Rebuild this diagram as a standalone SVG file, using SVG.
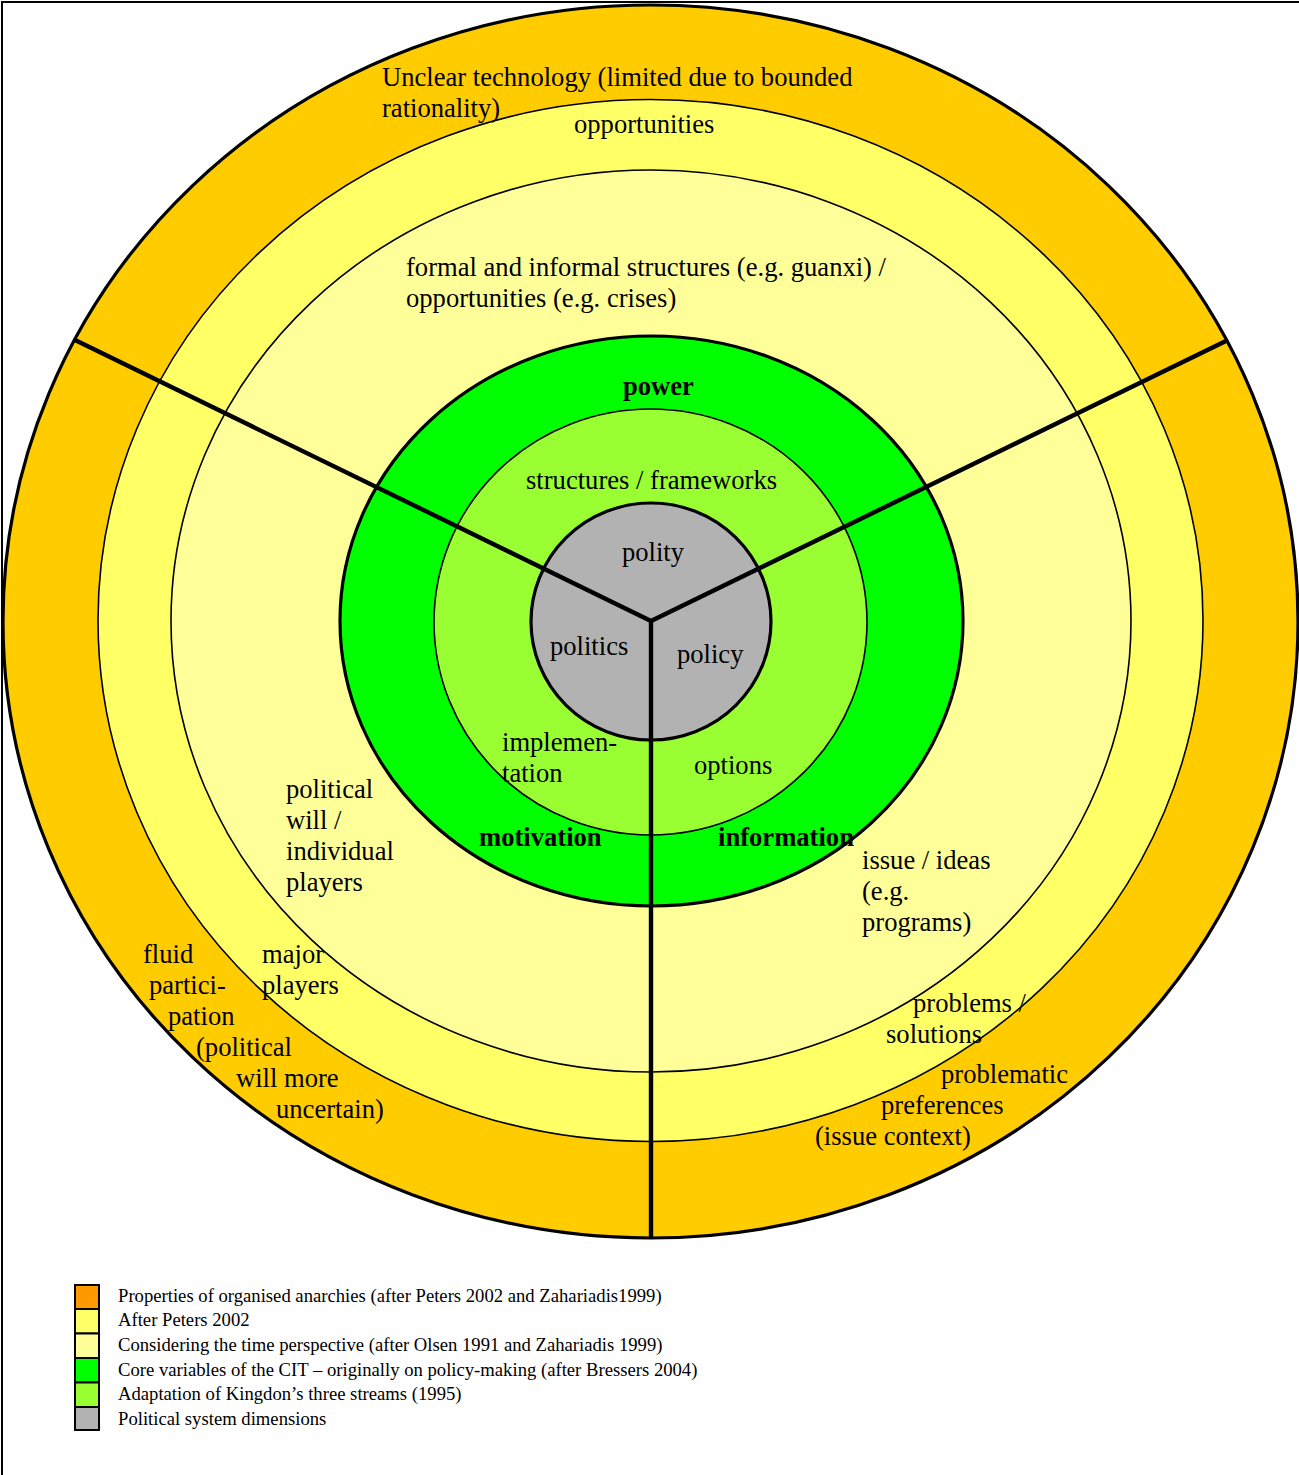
<svg xmlns="http://www.w3.org/2000/svg" width="1299" height="1475" viewBox="0 0 1299 1475">
  <style>
    .ring { stroke: #000; }
    .thick { stroke-width: 3.2; }
    .thin { stroke-width: 1.6; }
    .lbl { font-family: "Liberation Serif", "Times New Roman", serif; font-size: 26.6px; fill: #000; }
    .bold { font-weight: bold; }
    .leg { font-family: "Liberation Serif", "Times New Roman", serif; font-size: 18.67px; fill: #000; }
    .sw { stroke: #000; stroke-width: 2; }
    .divider { stroke: #000; stroke-width: 4.4; fill: none; stroke-linecap: butt; }
  </style>

  <rect x="0" y="0" width="1299" height="1475" fill="#fff"/>
  <!-- page frame (top and left edge) -->
  <path d="M2,1475 V2 H1299" fill="none" stroke="#000" stroke-width="2"/>

  <!-- concentric rings, outermost first -->
  <g id="ring-anarchies">
    <ellipse class="ring thick" cx="650.5" cy="621.5" rx="647.5" ry="616.5" fill="#FFCC00"/>
  </g>
  <g id="ring-peters">
    <ellipse class="ring thin" cx="650.5" cy="620.5" rx="552.5" ry="521" fill="#FFFF66"/>
  </g>
  <g id="ring-time">
    <ellipse class="ring thin" cx="651" cy="621" rx="480" ry="451" fill="#FFFF99"/>
  </g>
  <g id="ring-core">
    <ellipse class="ring thick" cx="651.5" cy="621" rx="311.5" ry="285" fill="#00FF00"/>
  </g>
  <g id="ring-streams">
    <ellipse class="ring thin" cx="650.5" cy="622" rx="216.5" ry="213" fill="#99FF33"/>
  </g>
  <g id="ring-system">
    <ellipse class="ring thick" cx="651" cy="621.5" rx="120" ry="118.5" fill="#B2B2B2"/>
  </g>

  <!-- sector dividers from the centre -->
  <g id="connectors">
    <line class="divider" x1="651" y1="621" x2="75" y2="340"/>
    <line class="divider" x1="651" y1="621" x2="1228" y2="340"/>
    <line class="divider" x1="651" y1="619" x2="651" y2="1239"/>
  </g>

  <!-- ring labels -->
  <g id="label-technology">
    <text class="lbl" x="382" y="86">Unclear technology (limited due to bounded</text>
    <text class="lbl" x="382" y="117">rationality)</text>
  </g>
  <g id="label-opportunities">
    <text class="lbl" x="574" y="133">opportunities</text>
  </g>
  <g id="label-structures-time">
    <text class="lbl" x="406" y="276">formal and informal structures (e.g. guanxi) /</text>
    <text class="lbl" x="406" y="307">opportunities (e.g. crises)</text>
  </g>
  <g id="label-power">
    <text class="lbl bold" x="623" y="395">power</text>
  </g>
  <g id="label-structures">
    <text class="lbl" x="526" y="489">structures / frameworks</text>
  </g>
  <g id="label-polity">
    <text class="lbl" x="622" y="561">polity</text>
  </g>
  <g id="label-politics">
    <text class="lbl" x="550" y="655">politics</text>
  </g>
  <g id="label-policy">
    <text class="lbl" x="677" y="663">policy</text>
  </g>
  <g id="label-implementation">
    <text class="lbl" x="502" y="751">implemen-</text>
    <text class="lbl" x="502" y="782">tation</text>
  </g>
  <g id="label-options">
    <text class="lbl" x="694" y="774">options</text>
  </g>
  <g id="label-motivation">
    <text class="lbl bold" x="479" y="846">motivation</text>
  </g>
  <g id="label-information">
    <text class="lbl bold" x="718" y="846">information</text>
  </g>
  <g id="label-political-will">
    <text class="lbl" x="286" y="798">political</text>
    <text class="lbl" x="286" y="829">will /</text>
    <text class="lbl" x="286" y="860">individual</text>
    <text class="lbl" x="286" y="891">players</text>
  </g>
  <g id="label-issue">
    <text class="lbl" x="862" y="869">issue / ideas</text>
    <text class="lbl" x="862" y="900">(e.g.</text>
    <text class="lbl" x="862" y="931">programs)</text>
  </g>
  <g id="label-fluid">
    <text class="lbl" x="143" y="963">fluid</text>
    <text class="lbl" x="149" y="994">partici-</text>
    <text class="lbl" x="168" y="1025">pation</text>
    <text class="lbl" x="196" y="1056">(political</text>
    <text class="lbl" x="236" y="1087">will more</text>
    <text class="lbl" x="276" y="1118">uncertain)</text>
  </g>
  <g id="label-major">
    <text class="lbl" x="262" y="963">major</text>
    <text class="lbl" x="262" y="994">players</text>
  </g>
  <g id="label-problems">
    <text class="lbl" x="913" y="1012">problems /</text>
    <text class="lbl" x="886" y="1043">solutions</text>
  </g>
  <g id="label-preferences">
    <text class="lbl" x="941" y="1083">problematic</text>
    <text class="lbl" x="881" y="1114">preferences</text>
    <text class="lbl" x="815" y="1145">(issue context)</text>
  </g>

  <!-- legend -->
  <g id="legend">
    <rect class="sw" x="75" y="1285" width="24" height="24" fill="#FF9900"/>
    <rect class="sw" x="75" y="1309" width="24" height="24.5" fill="#FFFF66"/>
    <rect class="sw" x="75" y="1333.5" width="24" height="24.5" fill="#FFFF99"/>
    <rect class="sw" x="75" y="1358" width="24" height="24.5" fill="#00FF00"/>
    <rect class="sw" x="75" y="1382.5" width="24" height="24.5" fill="#99FF33"/>
    <rect class="sw" x="75" y="1407" width="24" height="23" fill="#B2B2B2"/>
    <text class="leg" x="118" y="1302">Properties of organised anarchies (after Peters 2002 and Zahariadis1999)</text>
    <text class="leg" x="118" y="1326">After Peters 2002</text>
    <text class="leg" x="118" y="1351">Considering the time perspective (after Olsen 1991 and Zahariadis 1999)</text>
    <text class="leg" x="118" y="1376">Core variables of the CIT – originally on policy-making (after Bressers 2004)</text>
    <text class="leg" x="118" y="1400">Adaptation of Kingdon’s three streams (1995)</text>
    <text class="leg" x="118" y="1425">Political system dimensions</text>
  </g>
</svg>
